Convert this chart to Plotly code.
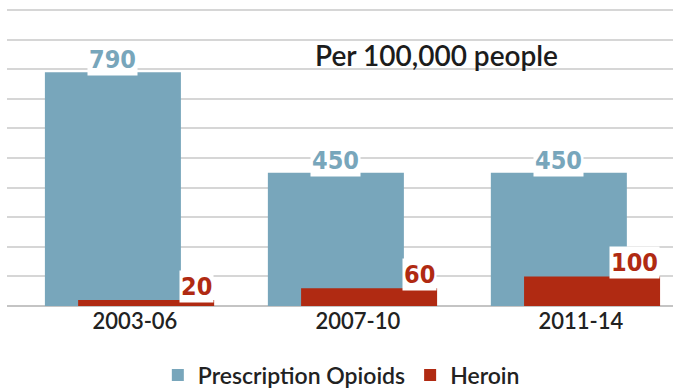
import plotly.graph_objects as go

periods = ["2003-06", "2007-10", "2011-14"]
opioids = [790, 450, 450]
heroin = [20, 60, 100]
series_names = ["Prescription Opioids", "Heroin"]
subtitle = "Per 100,000 people"

BLUE = "#78a6bb"
RED = "#b02a12"
NUM_FONT = "DejaVu Sans Condensed, sans-serif"
TXT_FONT = "Lato, Open Sans, sans-serif"

xs = list(range(len(periods)))
op_off, op_w = -0.404, 0.61
he_off, he_w = -0.255, 0.61

fig = go.Figure()
fig.add_trace(go.Bar(x=xs, y=opioids, name=series_names[0], marker_color=BLUE,
                     offset=op_off, width=op_w, marker_line_width=0))
fig.add_trace(go.Bar(x=xs, y=heroin, name=series_names[1], marker_color=RED,
                     offset=he_off, width=he_w, marker_line_width=0))

annotations = []
for x, v in zip(xs, opioids):
    annotations.append(dict(x=x + op_off + op_w / 2, y=v, text=str(v), showarrow=False,
                            xanchor="center", yanchor="bottom", yshift=-4,
                            bgcolor="white", borderpad=1,
                            font=dict(family=NUM_FONT, size=25, color=BLUE, weight="bold")))
for x, v in zip(xs, heroin):
    annotations.append(dict(x=x + he_off + he_w, y=v, text=str(v), showarrow=False,
                            xanchor="right", yanchor="bottom", yshift=-3,
                            bgcolor="white", borderpad=1,
                            font=dict(family=NUM_FONT, size=25, color=RED, weight="bold")))
annotations.append(dict(xref="paper", yref="paper", x=(313 - 7) / 666, y=(306 - 55) / 298,
                        text=subtitle, showarrow=False, xanchor="left", yanchor="middle",
                        font=dict(family=TXT_FONT, size=28, color="#1c1c1c", weight=600)))

fig.update_layout(
    width=673, height=389,
    margin=dict(l=7, r=0, t=8, b=83, autoexpand=False),
    paper_bgcolor="white", plot_bgcolor="white",
    barmode="overlay",
    showlegend=True,
    legend=dict(orientation="h", x=0.502, xanchor="center", y=-0.232, yanchor="middle",
                font=dict(family=TXT_FONT, size=23, color="#222222", weight=600),
                itemwidth=30, tracegroupgap=0),
    annotations=annotations,
    xaxis=dict(range=[-0.574, 2.413], tickvals=xs, ticktext=periods,
               showgrid=False, zeroline=False, showline=False, ticks="",
               tickfont=dict(family=TXT_FONT, size=22, color="#222222", weight=600),
               fixedrange=True),
    yaxis=dict(range=[0, 1006.8], dtick=100, showticklabels=False, ticks="",
               showgrid=True, gridcolor="#d6d6d6", gridwidth=1.6,
               zeroline=True, zerolinecolor="#c4c4c4", zerolinewidth=2,
               showline=False, fixedrange=True),
)

fig.write_html("out.html", config={"displayModeBar": False},
               post_script="document.body.style.margin='0';")
